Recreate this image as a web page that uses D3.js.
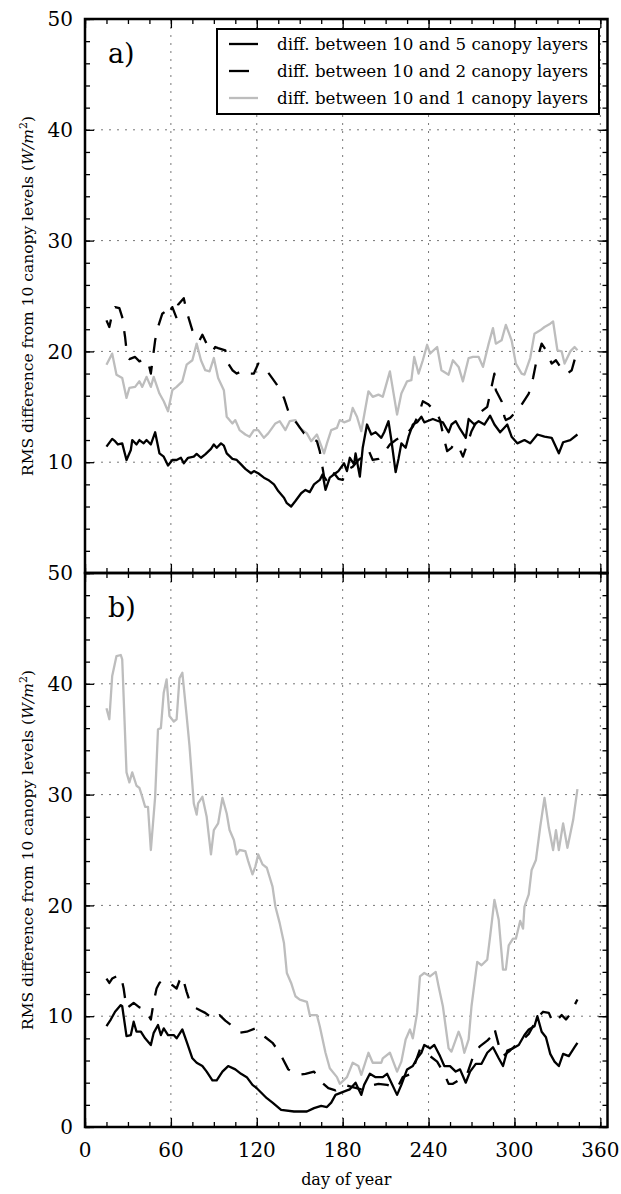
<!DOCTYPE html>
<html>
<head>
<meta charset="utf-8">
<script src="https://cdn.jsdelivr.net/npm/d3@7"></script>
<style>
  body { margin: 0; background: #fff; }
  text { font-family: "DejaVu Serif", serif; fill: #000; }
</style>
</head>
<body>
<div id="chart"></div>
<script>
// [day of year, RMS difference W/m2]
const a_10vs5 = [[15,11.4],[19,12.1],[21,11.9],[23,11.6],[26,11.7],[29,10.2],[32,11.1],[33,12.0],[36,11.6],[38,12.0],[41,11.7],[43,12.0],[46,11.6],[49,12.7],[52,10.8],[55,10.5],[58,9.7],[61,10.2],[64,10.2],[67,10.4],[69,9.9],[72,10.4],[76,10.5],[78,10.75],[81,10.4],[84,10.7],[88,11.2],[90,11.6],[92,11.3],[95,11.7],[97,11.5],[99,10.8],[103,10.3],[106,10.2],[109,9.8],[112,9.4],[116,9.0],[118,9.2],[121,9.0],[125,8.6],[128,8.4],[132,8.0],[135,7.4],[139,6.8],[141,6.3],[144,6.0],[147,6.5],[151,7.2],[154,7.5],[157,7.3],[160,8.0],[164,8.4],[166,8.9],[168,7.5],[171,8.6],[175,9.0],[177,9.2],[181,9.9],[183,9.2],[185,10.4],[188,9.8],[189,10.8],[192,8.7],[194,11.3],[197,13.4],[200,12.5],[203,12.7],[207,12.2],[209,12.7],[212,13.7],[214,12.0],[217,9.1],[219,10.3],[221,11.7],[224,11.3],[226,12.3],[229,13.4],[232,13.6],[235,14.1],[237,13.6],[239,13.7],[243,13.9],[247,13.7],[250,13.6],[254,12.7],[256,13.4],[259,13.7],[262,13.0],[266,12.2],[268,13.9],[272,13.4],[275,13.7],[279,13.4],[283,14.2],[286,13.4],[290,12.7],[295,13.4],[298,12.3],[302,11.7],[307,12.0],[311,11.7],[316,12.5],[321,12.3],[326,12.2],[331,10.8],[334,11.8],[339,12.0],[344,12.5]];

const a_10vs2 = [[15,22.8],[17,22.2],[19,23.4],[21,24.0],[24,23.9],[26,23.1],[28,21.3],[29,20.1],[31,19.3],[35,19.5],[38,19.1],[41,19.3],[44,19.1],[46,18.0],[49,21.0],[51,22.2],[54,23.4],[57,23.7],[58,23.3],[61,24.0],[64,23.0],[65,24.2],[69,24.8],[71,23.6],[75,21.9],[77,21.2],[80,21.0],[82,21.5],[86,20.4],[89,20.0],[91,20.4],[93,20.3],[98,20.1],[100,18.9],[103,18.3],[106,18.0],[111,18.3],[115,18.0],[118,18.0],[121,18.9],[125,18.6],[129,17.9],[134,17.0],[139,15.8],[142,14.6],[145,14.0],[148,13.5],[153,12.6],[158,12.2],[162,11.9],[164,11.0],[167,8.7],[169,8.3],[171,8.1],[174,9.0],[177,8.5],[180,8.4],[183,9.3],[187,9.6],[191,10.2],[194,10.5],[198,11.1],[201,10.2],[205,10.3],[208,10.7],[213,11.6],[217,12.0],[221,12.3],[225,12.6],[229,13.2],[233,14.3],[236,15.5],[240,15.2],[243,14.8],[246,14.4],[248,13.8],[251,12.0],[253,11.0],[256,11.3],[258,11.7],[261,11.4],[264,10.5],[267,11.6],[270,12.8],[274,13.8],[277,14.6],[281,15.0],[284,16.8],[286,18.0],[287,16.5],[291,15.5],[293,14.1],[294,13.8],[297,14.0],[300,14.4],[305,15.2],[310,16.2],[313,17.6],[315,18.9],[319,20.7],[322,20.1],[326,18.9],[329,19.2],[334,18.2],[337,18.0],[340,18.3],[343,19.7]];

const a_10vs1 = [[15,18.8],[19,19.8],[22,17.9],[26,17.6],[29,15.8],[31,16.7],[35,16.8],[38,17.3],[40,16.8],[43,17.7],[46,16.8],[48,17.7],[52,16.2],[55,15.5],[58,14.6],[61,16.5],[64,16.8],[68,17.3],[71,18.8],[75,19.2],[78,20.7],[81,19.2],[84,18.3],[87,18.2],[90,19.4],[93,17.6],[97,16.5],[99,14.1],[103,13.5],[105,13.8],[108,12.9],[112,12.5],[115,12.3],[118,12.9],[121,12.9],[125,12.2],[128,12.6],[133,13.5],[136,13.7],[140,12.9],[143,13.7],[147,13.8],[150,13.1],[155,12.6],[158,11.9],[162,12.5],[167,10.8],[169,11.7],[172,12.9],[176,13.1],[178,13.8],[181,13.6],[185,13.8],[187,14.9],[190,14.1],[193,12.8],[198,16.4],[201,15.9],[205,16.1],[208,15.9],[213,18.2],[218,14.3],[221,16.2],[225,17.3],[228,17.4],[230,19.5],[233,18.0],[236,19.2],[239,20.6],[241,19.8],[246,20.4],[249,18.3],[254,17.9],[257,19.2],[261,18.6],[264,17.3],[268,19.4],[271,19.5],[275,19.5],[278,18.6],[282,20.7],[285,22.1],[287,20.7],[291,21.0],[294,22.4],[298,21.0],[301,18.9],[305,18.0],[307,17.9],[311,19.4],[314,21.6],[318,21.9],[321,22.2],[325,22.5],[327,22.7],[330,20.1],[333,20.0],[335,18.9],[339,20.0],[342,20.4],[344,20.1]];

const b_10vs5 = [[15,9.1],[18,9.7],[21,10.4],[25,11.0],[26,10.9],[29,8.2],[32,8.3],[34,9.5],[36,8.6],[39,8.6],[42,8.0],[46,7.4],[48,8.5],[51,9.2],[53,8.3],[55,8.9],[58,8.3],[62,8.3],[64,8.0],[68,8.8],[71,7.7],[75,6.2],[78,5.8],[82,5.5],[85,5.0],[89,4.2],[92,4.2],[96,5.0],[100,5.5],[105,5.2],[109,4.8],[113,4.5],[117,3.8],[120,3.5],[127,2.6],[131,2.2],[137,1.55],[146,1.4],[155,1.4],[160,1.7],[165,1.9],[169,1.8],[172,2.2],[175,2.9],[179,3.1],[183,3.3],[185,3.4],[189,4.0],[193,2.9],[195,3.8],[199,4.8],[203,4.5],[208,4.5],[211,4.8],[214,4.0],[218,2.9],[221,3.8],[225,5.2],[229,5.5],[232,6.2],[235,6.7],[237,7.4],[241,7.1],[244,7.4],[248,6.4],[251,5.5],[255,5.5],[259,5.0],[262,5.2],[266,4.0],[269,5.0],[273,5.7],[277,5.7],[281,6.7],[285,7.2],[289,6.2],[292,5.5],[295,6.9],[299,7.1],[303,7.4],[307,8.3],[310,8.8],[314,9.1],[316,10.0],[319,8.6],[322,8.1],[325,6.6],[328,5.9],[331,5.5],[334,6.6],[338,6.4],[342,7.2],[344,7.6]];

const b_10vs2 = [[15,13.4],[17,13.0],[19,13.4],[22,13.6],[25,13.7],[27,12.5],[29,10.7],[31,10.9],[34,11.2],[38,10.8],[42,10.6],[46,9.7],[48,11.3],[50,12.5],[52,13.0],[55,13.3],[58,13.0],[61,12.8],[64,12.5],[66,13.2],[68,13.6],[71,12.2],[74,11.0],[78,10.7],[81,10.5],[84,10.3],[87,10.0],[90,9.7],[94,10.1],[98,9.6],[103,9.1],[108,8.5],[113,8.6],[119,8.9],[121,8.6],[126,8.1],[131,7.6],[136,6.7],[142,5.2],[148,4.7],[154,4.8],[160,5.0],[164,4.2],[170,3.5],[175,3.3],[181,3.8],[187,3.6],[193,3.4],[199,3.7],[205,3.9],[211,3.8],[218,3.5],[222,4.5],[228,4.8],[234,7.0],[241,6.4],[246,5.9],[251,4.8],[254,3.9],[257,3.9],[262,4.3],[267,4.8],[272,6.7],[276,7.3],[281,7.8],[285,8.3],[286,8.9],[289,7.4],[292,6.4],[297,6.9],[301,7.4],[306,7.9],[310,8.4],[313,9.1],[317,10.0],[320,10.4],[324,10.3],[327,9.4],[330,9.7],[333,10.1],[336,9.7],[339,10.2],[342,11.0],[344,11.5]];

const b_10vs1 = [[15,37.8],[17,36.8],[19,40.7],[22,42.5],[25,42.6],[26,42.2],[29,32.0],[31,31.1],[33,32.0],[36,30.8],[38,30.6],[40,29.8],[42,28.9],[44,28.9],[46,25.0],[49,29.8],[51,35.9],[53,36.0],[55,39.2],[57,40.4],[59,37.1],[62,36.6],[64,36.8],[66,40.5],[68,41.0],[71,37.1],[73,34.4],[76,29.2],[78,28.2],[79,29.2],[82,29.8],[85,28.0],[88,24.6],[90,26.8],[93,27.4],[96,29.7],[99,28.3],[101,26.8],[104,25.9],[106,24.6],[108,25.0],[112,24.9],[114,24.0],[117,22.8],[119,23.5],[121,24.6],[124,23.7],[127,23.4],[131,21.7],[133,19.9],[136,18.4],[139,16.6],[141,13.9],[144,13.0],[147,11.8],[150,11.5],[155,11.3],[157,10.1],[162,10.1],[164,9.1],[168,6.7],[171,5.3],[176,4.5],[178,3.9],[183,4.5],[187,5.8],[191,5.5],[193,4.7],[198,6.7],[201,5.8],[207,5.8],[208,6.2],[213,6.7],[218,5.0],[221,5.9],[224,7.9],[227,8.8],[229,8.0],[232,10.3],[234,13.6],[237,13.9],[241,13.6],[245,14.0],[247,12.7],[250,10.9],[254,7.1],[256,6.8],[261,8.6],[263,7.9],[265,6.7],[268,7.9],[270,10.9],[274,14.9],[277,14.6],[281,15.1],[283,17.2],[286,20.5],[289,18.7],[292,14.2],[294,14.2],[296,16.4],[299,17.0],[301,17.0],[304,18.6],[306,17.9],[307,19.9],[310,21.0],[312,23.2],[315,24.1],[318,27.1],[321,29.7],[324,27.0],[327,25.0],[329,26.8],[331,25.0],[334,27.4],[337,25.2],[341,27.7],[344,30.5]];

const legendLabels = [
  "diff. between 10 and 5 canopy layers",
  "diff. between 10 and 2 canopy layers",
  "diff. between 10 and 1 canopy layers"
];
const xTicks = [0, 60, 120, 180, 240, 300, 360];
const yTicks = [0, 10, 20, 30, 40, 50];

const width = 621, height = 1194;
const left = 85, right = 607.5;

const styles = [
  { stroke: "#000", dash: null },
  { stroke: "#000", dash: "15,13" },
  { stroke: "#bdbdbd", dash: null }
];

const panels = [
  { top: 19, bottom: 573, tag: "a)", series: [a_10vs5, a_10vs2, a_10vs1], legend: true, zeroLabel: false },
  { top: 573, bottom: 1127, tag: "b)", series: [b_10vs5, b_10vs2, b_10vs1], legend: false, zeroLabel: true }
];

const svg = d3.select("#chart")
  .append("svg")
  .attr("width", width)
  .attr("height", height)
  .style("background", "#fff");

const x = d3.scaleLinear().domain([0, 365]).range([left, right]);

panels.forEach(p => {
  const y = d3.scaleLinear().domain([0, 50]).range([p.bottom, p.top]);
  const g = svg.append("g");

  // grid
  g.selectAll(".vgrid")
    .data(xTicks.filter(d => d > 0))
    .join("line")
    .attr("x1", d => x(d)).attr("x2", d => x(d))
    .attr("y1", p.top).attr("y2", p.bottom)
    .attr("stroke", "#777").attr("stroke-width", 1)
    .attr("stroke-dasharray", "2,6");

  g.selectAll(".hgrid")
    .data(yTicks.filter(d => d > 0 && d < 50))
    .join("line")
    .attr("x1", left).attr("x2", right)
    .attr("y1", d => y(d)).attr("y2", d => y(d))
    .attr("stroke", "#777").attr("stroke-width", 1)
    .attr("stroke-dasharray", "2,6");

  // data lines, gray first so black sits on top
  const line = d3.line().x(d => x(d[0])).y(d => y(d[1]));
  [2, 1, 0].forEach(i => {
    g.append("path")
      .datum(p.series[i])
      .attr("d", line)
      .attr("fill", "none")
      .attr("stroke", styles[i].stroke)
      .attr("stroke-width", 2.3)
      .attr("stroke-linejoin", "round")
      .attr("stroke-dasharray", styles[i].dash);
  });

  // inward ticks on all four sides
  const minorX = d3.range(0, 366, 15);
  const minorY = d3.range(0, 51, 2);
  const tickAxis = (axis, transform) => {
    const a = g.append("g").attr("transform", transform).call(axis);
    a.select(".domain").remove();
    a.selectAll("line").attr("stroke", "#000").attr("stroke-width", 1.3);
    return a;
  };
  tickAxis(d3.axisBottom(x).tickValues(minorX).tickSize(-5).tickFormat(""), `translate(0,${p.bottom})`);
  tickAxis(d3.axisTop(x).tickValues(minorX).tickSize(-5).tickFormat(""), `translate(0,${p.top})`);
  tickAxis(d3.axisBottom(x).tickValues(xTicks).tickSize(-9).tickFormat(""), `translate(0,${p.bottom})`);
  tickAxis(d3.axisTop(x).tickValues(xTicks).tickSize(-9).tickFormat(""), `translate(0,${p.top})`);
  tickAxis(d3.axisLeft(y).tickValues(minorY).tickSize(-5).tickFormat(""), `translate(${left},0)`);
  tickAxis(d3.axisRight(y).tickValues(minorY).tickSize(-5).tickFormat(""), `translate(${right},0)`);
  tickAxis(d3.axisLeft(y).tickValues(yTicks).tickSize(-9).tickFormat(""), `translate(${left},0)`);
  tickAxis(d3.axisRight(y).tickValues(yTicks).tickSize(-9).tickFormat(""), `translate(${right},0)`);

  // y tick labels
  g.selectAll(".ylab")
    .data(yTicks.filter(d => p.zeroLabel || d > 0))
    .join("text")
    .attr("x", left - 12)
    .attr("y", d => y(d))
    .attr("dy", "0.36em")
    .attr("text-anchor", "end")
    .style("font-size", "20px")
    .text(d => d);

  // frame
  g.append("rect")
    .attr("x", left).attr("y", p.top)
    .attr("width", right - left).attr("height", p.bottom - p.top)
    .attr("fill", "none").attr("stroke", "#000").attr("stroke-width", 2.5);

  // panel tag
  g.append("text")
    .attr("x", 108).attr("y", p.top + 44)
    .style("font-size", "27px")
    .text(p.tag);

  // y axis label
  const yl = g.append("text")
    .attr("transform", `translate(33,${(p.top + p.bottom) / 2}) rotate(-90)`)
    .attr("text-anchor", "middle")
    .style("font-size", "15.5px");
  yl.append("tspan").text("RMS difference from 10 canopy levels (");
  yl.append("tspan").style("font-style", "italic").text("W/m");
  yl.append("tspan").attr("baseline-shift", "super").style("font-size", "11px").text("2");
  yl.append("tspan").text(")");

  if (p.legend) {
    const lg = g.append("g");
    lg.append("rect")
      .attr("x", 217).attr("y", 29)
      .attr("width", 382).attr("height", 85)
      .attr("fill", "#fff").attr("stroke", "#000").attr("stroke-width", 2);
    legendLabels.forEach((lab, i) => {
      const ly = 44 + i * 27;
      lg.append("line")
        .attr("x1", 229).attr("x2", 258)
        .attr("y1", ly).attr("y2", ly)
        .attr("stroke", styles[i].stroke)
        .attr("stroke-width", 2.3)
        .attr("stroke-dasharray", i === 1 ? "20,12" : null);
      lg.append("text")
        .attr("x", 277).attr("y", ly)
        .attr("dy", "0.35em")
        .style("font-size", "16.7px")
        .text(lab);
    });
  }
});

// x tick labels under the bottom panel
svg.selectAll(".xlab")
  .data(xTicks)
  .join("text")
  .attr("x", d => x(d))
  .attr("y", 1157)
  .attr("text-anchor", "middle")
  .style("font-size", "20px")
  .text(d => d);

svg.append("text")
  .attr("x", (left + right) / 2)
  .attr("y", 1185)
  .attr("text-anchor", "middle")
  .style("font-size", "16px")
  .text("day of year");
</script>
</body>
</html>
